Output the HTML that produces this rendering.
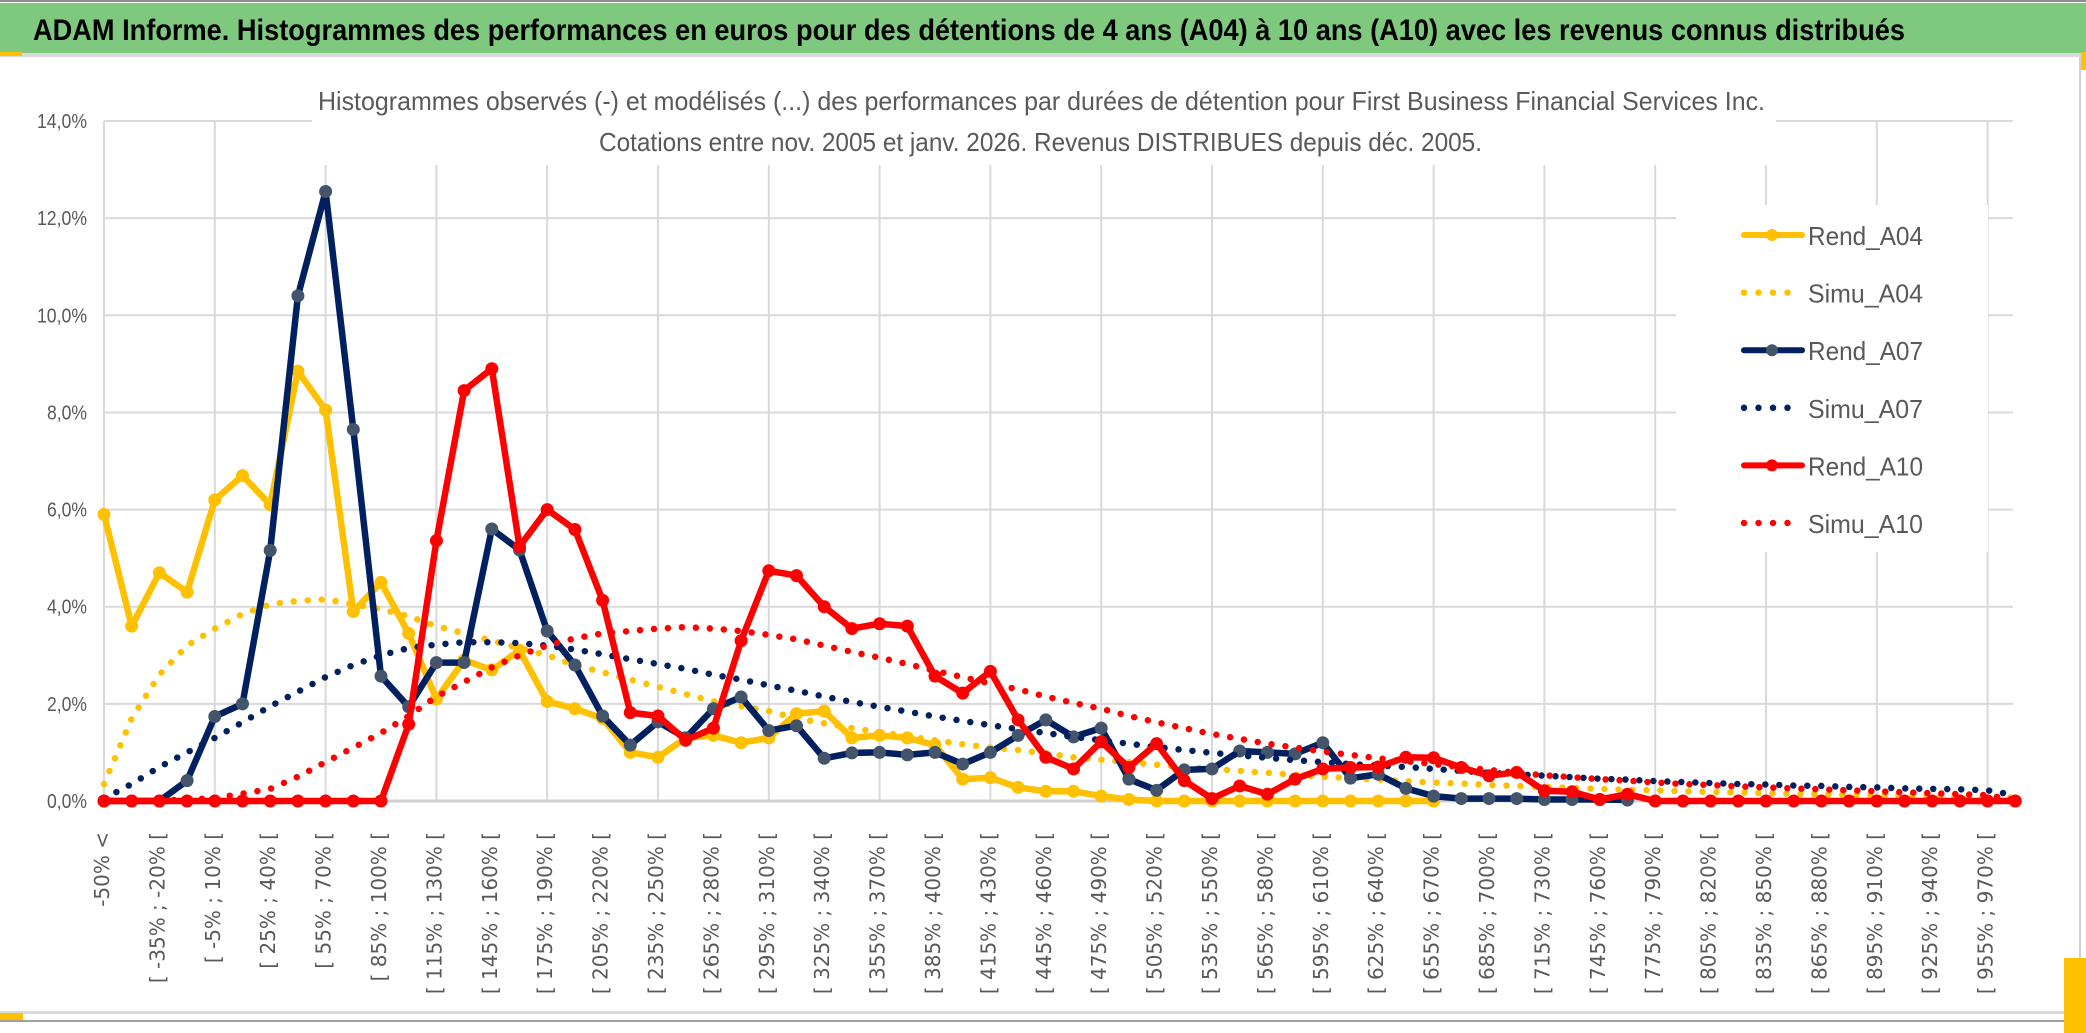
<!DOCTYPE html>
<html><head><meta charset="utf-8"><style>
html,body{margin:0;padding:0;background:#fff;}
svg{display:block;}
</style></head><body>
<svg id="chart" width="2086" height="1033" viewBox="0 0 2086 1033" xmlns="http://www.w3.org/2000/svg">
<rect x="0" y="0" width="2086" height="1033" fill="#fff"/>
<rect x="0" y="0" width="2086" height="2" fill="#8c8c8c"/>
<rect x="0" y="3" width="2086" height="50" fill="#7fc97f"/>
<rect x="0" y="53" width="2086" height="4" fill="#d9d9d9"/>
<rect x="0" y="52" width="22" height="4" fill="#ffc000"/>
<rect x="2081" y="52" width="5" height="18" fill="#ffc000"/>
<text x="33" y="40" font-family="Liberation Sans, sans-serif" font-size="30" font-weight="bold" fill="#000" textLength="1872" lengthAdjust="spacingAndGlyphs">ADAM Informe. Histogrammes des performances en euros pour des détentions de 4 ans (A04) à 10 ans (A10) avec les revenus connus distribués</text>
<rect x="2079" y="57" width="2" height="955" fill="#d0d0d0"/>
<rect x="0" y="1011" width="2086" height="3" fill="#d9d9d9"/>
<rect x="0" y="1020" width="2086" height="2" fill="#a0a0a0"/>
<rect x="0" y="1013" width="23" height="7" fill="#ffc000"/>
<rect x="2064" y="958" width="22" height="75" fill="#ffc000"/>
<g id="grid"></g>
<g id="series"></g>
<rect x="312" y="84" width="1464" height="81" fill="#fff"/>
<text x="318" y="110" font-family="Liberation Sans, sans-serif" font-size="26" fill="#595959" textLength="1447" lengthAdjust="spacingAndGlyphs">Histogrammes observés (-) et modélisés (...) des performances par durées de détention pour First Business Financial Services Inc.</text>
<text x="599" y="151" font-family="Liberation Sans, sans-serif" font-size="26" fill="#595959" textLength="883" lengthAdjust="spacingAndGlyphs">Cotations entre nov. 2005 et janv. 2026. Revenus DISTRIBUES depuis déc. 2005.</text>
<g id="axes"></g>
<g id="legend"></g>
</svg>
<script>
const yTicks = [0, 2, 4, 6, 8, 10, 12, 14];
const seriesNames = ["Rend_A04", "Simu_A04", "Rend_A07", "Simu_A07", "Rend_A10", "Simu_A10"];
const rendA04 = [5.9,3.6,4.7,4.3,6.2,6.7,6.1,8.85,8.05,3.9,4.5,3.45,2.1,2.9,2.7,3.1,2.05,1.9,1.7,1.0,0.9,1.3,1.35,1.2,1.3,1.8,1.85,1.3,1.35,1.3,1.15,0.45,0.48,0.28,0.2,0.2,0.1,0.03,0,0,0,0,0,0,0,0,0,0,0];
const simuA04 = [0.35,1.7,2.6,3.2,3.55,3.85,4.05,4.12,4.15,4.05,3.95,3.8,3.6,3.45,3.3,3.15,3.0,2.8,2.65,2.5,2.35,2.2,2.05,1.95,1.85,1.7,1.6,1.5,1.42,1.33,1.25,1.17,1.1,1.05,0.98,0.9,0.85,0.8,0.75,0.7,0.66,0.62,0.58,0.54,0.5,0.47,0.44,0.41,0.38,0.36,0.33,0.31,0.29,0.27,0.25,0.23,0.22,0.2,0.19,0.18,0.16,0.15,0.14,0.13,0.12,0.11,0.1,0.09,0.08,0.07];
const rendA07 = [0,0,0,0.42,1.74,2.0,5.16,10.4,12.55,7.65,2.57,1.94,2.85,2.85,5.6,5.17,3.5,2.8,1.75,1.15,1.63,1.3,1.9,2.14,1.45,1.55,0.88,0.99,1.0,0.95,1.0,0.76,1.0,1.35,1.67,1.32,1.5,0.45,0.22,0.64,0.66,1.03,1.0,0.97,1.2,0.47,0.55,0.26,0.1,0.05,0.05,0.05,0.03,0.03,0.03,0.02];
const simuA07 = [0.05,0.35,0.7,1.0,1.3,1.62,1.95,2.25,2.55,2.8,3.0,3.15,3.22,3.27,3.27,3.25,3.2,3.12,3.02,2.92,2.82,2.72,2.6,2.5,2.38,2.27,2.15,2.04,1.94,1.84,1.74,1.65,1.56,1.48,1.4,1.32,1.25,1.18,1.11,1.05,0.99,0.94,0.89,0.84,0.8,0.76,0.73,0.7,0.66,0.62,0.58,0.55,0.52,0.49,0.46,0.44,0.41,0.39,0.37,0.35,0.34,0.32,0.31,0.29,0.28,0.26,0.25,0.24,0.22,0.12];
const rendA10 = [0,0,0,0,0,0,0,0,0,0,0,1.58,5.36,8.45,8.9,5.24,6.0,5.59,4.13,1.82,1.75,1.25,1.5,3.3,4.74,4.64,4.0,3.55,3.65,3.6,2.57,2.22,2.67,1.67,0.9,0.66,1.22,0.69,1.18,0.42,0.05,0.31,0.14,0.45,0.66,0.69,0.7,0.9,0.89,0.69,0.52,0.59,0.21,0.19,0.03,0.14,0,0,0,0,0,0,0,0,0,0,0,0,0,0];
const simuA10 = [0,0,0.01,0.03,0.06,0.15,0.25,0.5,0.8,1.1,1.4,1.75,2.15,2.45,2.75,3.0,3.2,3.35,3.45,3.5,3.55,3.58,3.55,3.5,3.42,3.33,3.2,3.07,2.95,2.82,2.68,2.55,2.42,2.3,2.15,2.02,1.9,1.75,1.62,1.5,1.38,1.28,1.18,1.1,1.02,0.95,0.88,0.82,0.76,0.7,0.64,0.58,0.53,0.49,0.45,0.42,0.38,0.35,0.33,0.3,0.28,0.26,0.24,0.22,0.2,0.18,0.16,0.14,0.12,0.02];
const categories = ["-50% <"];
for (let p = -50; p < 985; p += 15) categories.push("[ " + p + "% ; " + (p + 15) + "% [");
categories.length = 70;

const NS = "http://www.w3.org/2000/svg";
const X0 = 104, DX = 27.7, Y0 = 801, PY = 48.57;
function xPos(i) { return X0 + i * DX; }
function yPos(v) { return Y0 - v * PY; }
function mk(tag, attrs, parent) {
  const e = document.createElementNS(NS, tag);
  for (const k in attrs) e.setAttribute(k, attrs[k]);
  parent.appendChild(e);
  return e;
}
const grid = document.getElementById("grid");
const axes = document.getElementById("axes");
const series = document.getElementById("series");
const legend = document.getElementById("legend");

for (let i = 0; i < categories.length; i += 4) {
  const l = mk("line", {x1: xPos(i), x2: xPos(i), y1: yPos(14), y2: yPos(0), stroke: "#d9d9d9", "stroke-width": 2}, grid);
  
  
}
yTicks.forEach(function (t) {
  const l = mk("line", {x1: X0, x2: 2013, y1: yPos(t), y2: yPos(t), stroke: t === 0 ? "#d0d0d0" : "#d9d9d9", "stroke-width": t === 0 ? 3 : 2}, grid);
  
  
  const label = t.toFixed(1).replace(".", ",") + "%";
  const tx = mk("text", {x: 87, y: yPos(t) + 7, "text-anchor": "end", "font-family": "Liberation Sans, sans-serif", "font-size": 20, fill: "#595959", textLength: label.length === 4 ? 40 : 50, lengthAdjust: "spacingAndGlyphs"}, axes);
  tx.textContent = label;
  
  
});
categories.forEach(function (c, i) {
  if (i % 2 !== 0) return;
  const x = xPos(i) + 5;
  const tx = mk("text", {x: x, y: 832, transform: "rotate(-90 " + x + " 832)", "text-anchor": "end", "font-family": "DejaVu Sans, sans-serif", "font-size": 20, fill: "#595959"}, axes);
  tx.textContent = c;
  
  
});

function pathOf(arr) {
  let d = "";
  arr.forEach(function (v, i) { d += (i ? "L" : "M") + xPos(i).toFixed(1) + " " + yPos(v).toFixed(1); });
  return d;
}
function solid(arr, color, mcolor, name) {
  const p = mk("path", {d: pathOf(arr), fill: "none", stroke: color, "stroke-width": 6.5, "stroke-linejoin": "round"}, series);
  
  
  arr.forEach(function (v, i) {
    const c = mk("circle", {cx: xPos(i), cy: yPos(v), r: 6.5, fill: mcolor}, series);
    
    
  });
}
function dotted(arr, color, name) {
  const p = mk("path", {d: pathOf(arr), fill: "none", stroke: color, "stroke-width": 6.5, "stroke-linecap": "round", "stroke-dasharray": "0 14"}, series);
  
  
}
const cY = "#ffc000", cN = "#002060", cR = "#ff0000";
solid(rendA04, cY, cY, "rend-a04");
dotted(simuA04, cY, "simu-a04");
solid(rendA07, cN, "#44546a", "rend-a07");
dotted(simuA07, cN, "simu-a07");
solid(rendA10, cR, cR, "rend-a10");
dotted(simuA10, cR, "simu-a10");

const lbg = mk("rect", {x: 1676, y: 205, width: 312, height: 347, fill: "#fff"}, legend);


const legColors = [cY, cY, cN, cN, cR, cR];
const legMarker = [cY, null, "#44546a", null, cR, null];
seriesNames.forEach(function (n, k) {
  const y = 235 + k * 57.6;
  const g = mk("g", {}, legend);
  
  
  if (legMarker[k]) {
    mk("line", {x1: 1744, x2: 1802, y1: y, y2: y, stroke: legColors[k], "stroke-width": 6, "stroke-linecap": "round"}, g);
    mk("circle", {cx: 1772, cy: y, r: 6, fill: legMarker[k]}, g);
  } else {
    mk("line", {x1: 1744, x2: 1802, y1: y, y2: y, stroke: legColors[k], "stroke-width": 6.5, "stroke-linecap": "round", "stroke-dasharray": "0 14.5"}, g);
  }
  const t = mk("text", {x: 1808, y: y + 10, "font-family": "Liberation Sans, sans-serif", "font-size": 26, fill: "#595959", textLength: 115, lengthAdjust: "spacingAndGlyphs"}, g);
  t.textContent = n;
});
</script>
</body></html>
